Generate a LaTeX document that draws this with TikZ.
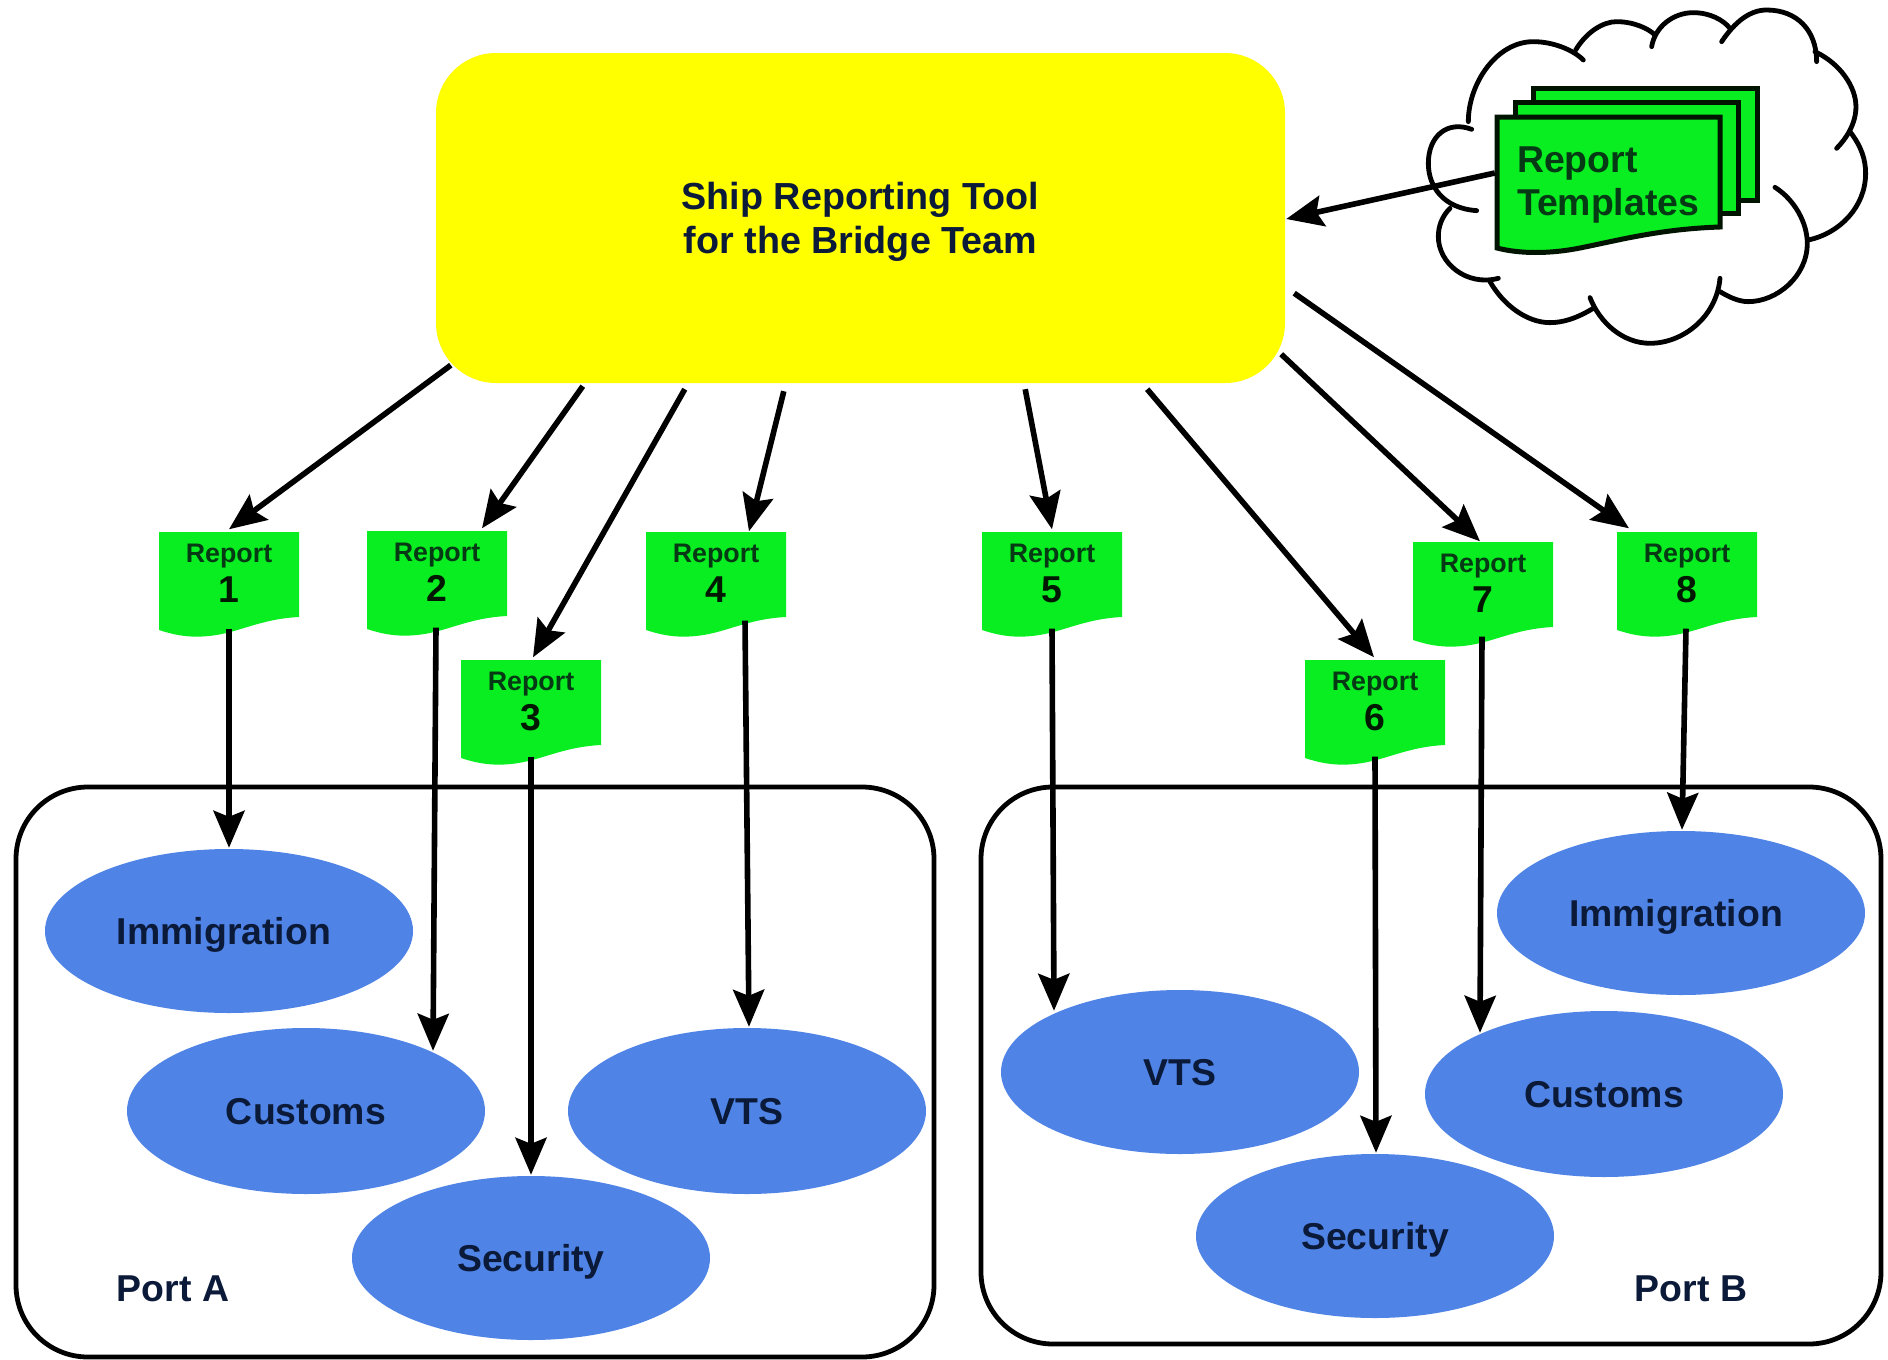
\documentclass[tikz,border=0pt]{standalone}
\usepackage{fontspec}
\setmainfont{Liberation Sans}
\usetikzlibrary{arrows.meta,shapes.geometric}
\definecolor{toolyellow}{HTML}{FFFF00}
\definecolor{docgreen}{HTML}{08EE20}
\definecolor{ovalblue}{HTML}{4F84E6}
\definecolor{inkblue}{HTML}{0C1A3A}
\definecolor{inkgreen}{HTML}{063A14}
\tikzset{
  arr/.style={line width=5.6pt,-{Stealth[length=37pt,width=31pt,inset=6pt]}},
  portbox/.style={draw=black,line width=4.8pt,rounded corners=72pt,fill=white},
  oval/.style={ellipse,fill=ovalblue,inner sep=0pt,text=inkblue,text height=27pt,text depth=0pt,font=\bfseries\fontsize{37.4}{42}\selectfont},
  docnode/.style={minimum width=140pt,minimum height=103pt,inner sep=0pt},
  doclabel/.style={inner sep=0pt,align=center,text=inkgreen,font=\bfseries},
  sheet/.style={draw=black!92!green,line width=5pt,fill=docgreen,line join=miter},
  cloudlobe/.style={line width=4.8pt,line cap=round,draw=black},
}
\newcommand{\reportdoc}[4]{%
  \begin{scope}[shift={(#2,#3)}]
    \fill[docgreen] (-70,-51) -- (70,-51) -- (70,34)
      .. controls (30,36) and (10,50) .. (-20,53)
      .. controls (-40,55) and (-55,52) .. (-70,47) -- cycle;
    \node[docnode] (#1) at (0,0) {};
    \node[doclabel] (#1t) at (0,-9.5) {%
      \fontsize{26.8}{30}\selectfont Report\\[7.5pt]%
      \fontsize{37.4}{41}\selectfont\textcolor{black!90!green}{#4}};
  \end{scope}}
\begin{document}
\begin{tikzpicture}[x=1pt,y=-1pt]
\useasboundingbox (0,0) rectangle (1888,1360);
\fill[white] (0,0) rectangle (1888,1360);

% port frames
\node[portbox,minimum width=918pt,minimum height=570pt,inner sep=0pt] (portA) at (475,1072) {};
\node[portbox,minimum width=900pt,minimum height=557pt,inner sep=0pt] (portB) at (1431,1065.5) {};
\node[font=\bfseries\fontsize{37.4}{42}\selectfont,text=inkblue] (portAlabel) at (173,1289) {Port A};
\node[font=\bfseries\fontsize{37.4}{42}\selectfont,text=inkblue] (portBlabel) at (1691,1289) {Port B};

% ovals
\node[oval,minimum width=368pt,minimum height=164pt] (immA) at (229,931) {\hspace*{-10pt}Immigration};
\node[oval,minimum width=358pt,minimum height=166pt] (cusA) at (306,1111) {Customs};
\node[oval,minimum width=358pt,minimum height=166pt] (vtsA) at (747,1111) {VTS};
\node[oval,minimum width=358pt,minimum height=164pt] (secA) at (531,1258) {Security};
\node[oval,minimum width=368pt,minimum height=164pt] (immB) at (1681,913) {\hspace*{-10pt}Immigration};
\node[oval,minimum width=358pt,minimum height=164pt] (vtsB) at (1180,1072) {VTS};
\node[oval,minimum width=358pt,minimum height=166pt] (cusB) at (1604,1094) {Customs};
\node[oval,minimum width=358pt,minimum height=164pt] (secB) at (1375,1236) {Security};

% tool
\node[fill=toolyellow,rounded corners=60pt,minimum width=849pt,minimum height=330pt,inner sep=0pt] (tool) at (860.5,218) {};
\node[inner sep=0pt,align=center,text=inkblue,font=\bfseries\fontsize{37.7}{44}\selectfont] (tooltext) at (860.5,222) {Ship Reporting Tool\\for the Bridge Team};

% cloud
\begin{scope}[shift={(1400,0)},x=0.3333pt,y=-0.3333pt]
  \draw[cloudlobe] (230,632) .. controls (130,625) and (85,560) .. (85,490) .. controls (85,410) and (140,360) .. (215,388);
  \draw[cloudlobe] (205,365) .. controls (205,250) and (290,125) .. (400,125) .. controls (460,125) and (520,150) .. (550,180);
  \draw[cloudlobe] (527,150) .. controls (560,95) and (610,65) .. (650,65) .. controls (700,65) and (745,85) .. (765,105);
  \draw[cloudlobe] (755,140) .. controls (765,80) and (820,38) .. (880,38) .. controls (930,38) and (970,60) .. (990,85);
  \draw[cloudlobe] (965,125) .. controls (1005,65) and (1050,30) .. (1100,30) .. controls (1190,30) and (1250,90) .. (1250,185);
  \draw[cloudlobe] (1245,155) .. controls (1320,190) and (1368,260) .. (1368,320) .. controls (1368,370) and (1340,415) .. (1310,445);
  \draw[cloudlobe] (1350,395) .. controls (1385,440) and (1397,480) .. (1397,520) .. controls (1397,620) and (1320,700) .. (1225,720);
  \draw[cloudlobe] (1125,562) .. controls (1185,600) and (1222,670) .. (1222,730) .. controls (1222,830) and (1130,905) .. (1045,905) .. controls (1015,905) and (985,890) .. (960,875);
  \draw[cloudlobe] (960,835) .. controls (950,950) and (850,1030) .. (750,1030) .. controls (670,1030) and (600,970) .. (570,893);
  \draw[cloudlobe] (580,925) .. controls (530,955) and (490,968) .. (450,968) .. controls (380,968) and (310,915) .. (270,845);
  \draw[cloudlobe] (295,835) .. controls (200,860) and (115,790) .. (115,710) .. controls (115,680) and (125,650) .. (150,625);
\end{scope}

% template stack
\draw[sheet] (1533,88) rectangle (1757,200);
\draw[sheet] (1515,102) rectangle (1738,213);
\draw[sheet] (1497,117) -- (1720,117) -- (1720,227)
  .. controls (1660,229) and (1620,240) .. (1580,248)
  .. controls (1550,254) and (1520,254) .. (1497,248) -- cycle;
\node[inner sep=0pt,minimum width=223pt,minimum height=131pt,align=left,text=inkgreen,text width=183pt,
  font=\bfseries\fontsize{37.4}{43}\selectfont] (templates) at (1608.5,185) {Report\\Templates};

% reports
\reportdoc{r1}{229}{583}{1}
\reportdoc{r2}{437}{582}{2}
\reportdoc{r3}{531}{711}{3}
\reportdoc{r4}{716}{583}{4}
\reportdoc{r5}{1052}{583}{5}
\reportdoc{r6}{1375}{711}{6}
\reportdoc{r7}{1483}{593}{7}
\reportdoc{r8}{1687}{583}{8}

% connectors
\draw[arr] ([shift={(-2,-12)}]templates.west) -- ([shift={(1,1)}]tool.east);
\draw[arr] ([shift={(15,-18)}]tool.south west) -- ([shift={(0,-2)}]r1.north);
\draw[arr] ([shift={(147,3)}]tool.south west) -- ([shift={(45,-2)}]r2.north);
\draw[arr] ([shift={(249,6)}]tool.south west) -- ([shift={(2,-2)}]r3.north);
\draw[arr] ([shift={(348,8)}]tool.south west) -- ([shift={(33,0)}]r4.north);
\draw[arr] ([shift={(-260,6)}]tool.south east) -- ([shift={(0,-2)}]r5.north);
\draw[arr] ([shift={(-138,6)}]tool.south east) -- ([shift={(-1,-2)}]r6.north);
\draw[arr] ([shift={(-4,-29)}]tool.south east) -- ([shift={(-3,0)}]r7.north);
\draw[arr] ([shift={(9,-90)}]tool.south east) -- ([shift={(-58,-3)}]r8.north);

\draw[arr] ([shift={(0,-6)}]r1.south) -- ([shift={(0,-1)}]immA.north);
\draw[arr] ([shift={(-1,-6)}]r2.south) -- ([shift={(127,23)}]cusA.north);
\draw[arr] ([shift={(0,-6)}]r3.south) -- ([shift={(0,-1)}]secA.north);
\draw[arr] ([shift={(29,-14)}]r4.south) -- ([shift={(2,-1)}]vtsA.north);
\draw[arr] ([shift={(0,-6)}]r5.south) -- ([shift={(-126,21)}]vtsB.north);
\draw[arr] ([shift={(0,-6)}]r6.south) -- ([shift={(1,-1)}]secB.north);
\draw[arr] ([shift={(-1,-8)}]r7.south) -- ([shift={(-124,22)}]cusB.north);
\draw[arr] ([shift={(-1,-6)}]r8.south) -- ([shift={(1,-1)}]immB.north);
\end{tikzpicture}
\end{document}
